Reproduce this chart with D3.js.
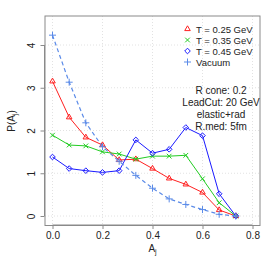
<!DOCTYPE html>
<html>
<head>
<meta charset="utf-8">
<script src="https://cdn.jsdelivr.net/npm/d3@7"></script>
<style>
  body { margin: 0; background: #fff; }
  svg { display: block; font-family: "Liberation Sans", Arial, sans-serif; }
</style>
</head>
<body>
<div id="chart"></div>
<script>
// A_j bin centres
const aj = [0, 0.0667, 0.1333, 0.2, 0.2667, 0.3333, 0.4, 0.4667, 0.5333, 0.6, 0.6667, 0.7333];

const t025 = [3.15, 2.31, 1.84, 1.66, 1.31, 1.33, 1.11, 0.88, 0.74, 0.55, 0.14, 0.0];
const t035 = [1.89, 1.66, 1.64, 1.50, 1.45, 1.33, 1.40, 1.40, 1.42, 0.87, 0.31, 0.0];
const t045 = [1.38, 1.11, 1.06, 1.02, 1.06, 1.78, 1.47, 1.56, 2.07, 1.88, 0.52, 0.0];
const vacuum = [4.23, 3.13, 2.18, 1.62, 1.28, 0.95, 0.65, 0.40, 0.27, 0.15, 0.04, 0.0];

const xTicks = [0, 0.2, 0.4, 0.6, 0.8];
const yTicks = [0, 1, 2, 3, 4];

const legendLabels = ['T = 0.25 GeV', 'T = 0.35 GeV', 'T = 0.45 GeV', 'Vacuum'];
const infoLines = ['R cone: 0.2', 'LeadCut: 20 GeV', 'elastic+rad', 'R.med: 5fm'];

const series = [
  { name: legendLabels[0], values: t025, color: '#ff2020', symbol: d3.symbolTriangle2, size: 22, dash: null },
  { name: legendLabels[1], values: t035, color: '#22cc22', symbol: d3.symbolTimes, size: 16, dash: null },
  { name: legendLabels[2], values: t045, color: '#1a1aff', symbol: d3.symbolDiamond2, size: 20, dash: null },
  { name: legendLabels[3], values: vacuum, color: '#5b8be8', symbol: d3.symbolPlus, size: 18, dash: '4,3' }
];

const width = 269, height = 263;
const box = { left: 45, right: 260, top: 16, bottom: 225.5 };

const svg = d3.select('#chart')
  .append('svg')
  .attr('width', width)
  .attr('height', height);

const x = d3.scaleLinear().domain([0, 0.8]).range([52.5, 252.5]);
const y = d3.scaleLinear().domain([0, 4]).range([216, 45]);

// grid
svg.append('g')
  .selectAll('line')
  .data(xTicks)
  .join('line')
  .attr('x1', d => x(d)).attr('x2', d => x(d))
  .attr('y1', box.top).attr('y2', box.bottom)
  .attr('stroke', '#e2e2e2').attr('stroke-dasharray', '1,2');

svg.append('g')
  .selectAll('line')
  .data(yTicks)
  .join('line')
  .attr('x1', box.left).attr('x2', box.right)
  .attr('y1', d => y(d)).attr('y2', d => y(d))
  .attr('stroke', '#e2e2e2').attr('stroke-dasharray', '1,2');

// box
svg.append('rect')
  .attr('x', box.left).attr('y', box.top)
  .attr('width', box.right - box.left).attr('height', box.bottom - box.top)
  .attr('fill', 'none').attr('stroke', '#8a8a8a');

// axes
const xAxis = svg.append('g')
  .attr('transform', 'translate(0,' + (box.bottom - 0.5) + ')')
  .call(d3.axisBottom(x).tickValues(xTicks).tickFormat(d3.format('.1f')).tickSizeOuter(0).tickSize(4).tickPadding(3));

const yAxis = svg.append('g')
  .attr('transform', 'translate(' + (box.left - 0.5) + ',0)')
  .call(d3.axisLeft(y).tickValues(yTicks).tickFormat(d3.format('d')).tickSizeOuter(0).tickSize(4).tickPadding(6));

[xAxis, yAxis].forEach(a => {
  a.select('.domain').attr('stroke', '#8a8a8a');
  a.selectAll('.tick line').attr('stroke', '#8a8a8a');
  a.selectAll('.tick text').attr('fill', '#222').attr('font-size', 10)
    .attr('font-family', '"Liberation Sans", Arial, sans-serif');
});
xAxis.select('.domain').attr('d', 'M' + x(0) + ',0H' + x(0.8));
yAxis.select('.domain').attr('d', 'M0,' + y(0) + 'V' + y(4));

yAxis.selectAll('.tick text')
  .attr('text-anchor', 'middle')
  .attr('dy', null)
  .attr('x', 0).attr('y', 0)
  .attr('transform', 'translate(-10,0) rotate(-90)');

// axis titles
const xTitle = svg.append('text')
  .attr('x', 152.5).attr('y', 252)
  .attr('text-anchor', 'middle').attr('font-size', 10).attr('fill', '#222');
xTitle.append('tspan').text('A');
xTitle.append('tspan').attr('font-size', 7).attr('dy', 2).text('j');

const yTitle = svg.append('text')
  .attr('transform', 'translate(15,121) rotate(-90)')
  .attr('text-anchor', 'middle').attr('font-size', 10).attr('fill', '#222');
yTitle.append('tspan').text('P(A');
yTitle.append('tspan').attr('font-size', 7).attr('dy', 2).text('j');
yTitle.append('tspan').attr('dy', -2).text(')');

// series
const line = d3.line()
  .x((d, i) => x(aj[i]))
  .y(d => y(d));

series.forEach(s => {
  svg.append('path')
    .attr('d', line(s.values))
    .attr('fill', 'none')
    .attr('stroke', s.color)
    .attr('stroke-width', s.dash ? 1.2 : 1)
    .attr('stroke-dasharray', s.dash);

  svg.append('g')
    .selectAll('path')
    .data(s.values)
    .join('path')
    .attr('transform', (d, i) => 'translate(' + x(aj[i]) + ',' + y(d) + ')')
    .attr('d', d3.symbol().type(s.symbol).size(s.size))
    .attr('fill', 'none')
    .attr('stroke', s.color)
    .attr('stroke-width', 1);
});

// legend
const legend = svg.append('g');
series.forEach((s, i) => {
  const cy = 29 + i * 11;
  legend.append('path')
    .attr('transform', 'translate(187.5,' + cy + ')')
    .attr('d', d3.symbol().type(s.symbol).size(s.size))
    .attr('fill', 'none')
    .attr('stroke', s.color);
  legend.append('text')
    .attr('x', 196).attr('y', cy + 3.5)
    .attr('font-size', 9.5).attr('fill', '#222')
    .text(legendLabels[i]);
});

// info text
svg.append('g')
  .selectAll('text')
  .data(infoLines)
  .join('text')
  .attr('x', 221)
  .attr('y', (d, i) => 94 + i * 12)
  .attr('text-anchor', 'middle')
  .attr('font-size', 10).attr('fill', '#222')
  .text(d => d);
</script>
</body>
</html>
